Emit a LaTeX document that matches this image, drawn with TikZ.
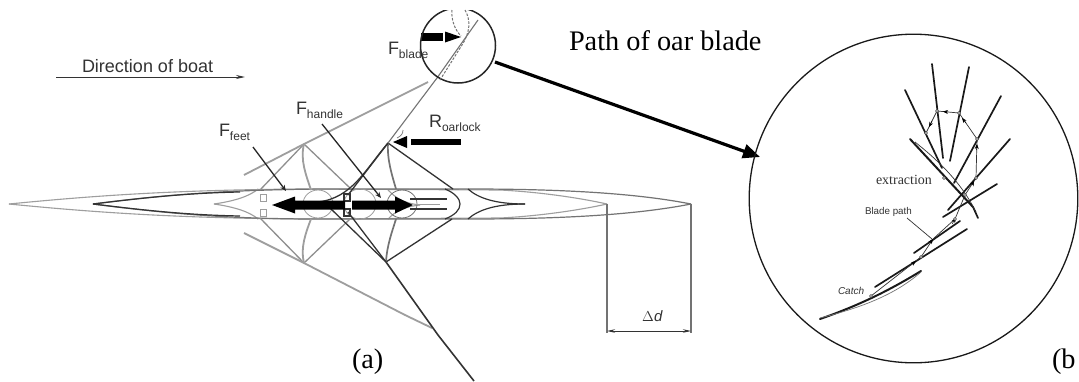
\documentclass[tikz,border=0pt]{standalone}
\usepackage{fontspec}
\setmainfont{Liberation Serif}
\setsansfont{Liberation Sans}
\usetikzlibrary{arrows.meta}
\definecolor{lg}{gray}{0.62}
\definecolor{mg}{gray}{0.45}
\definecolor{dg}{gray}{0.2}
\newcommand{\forcelab}[2]{\fontsize{18}{18}\selectfont #1\raisebox{-4pt}{\fontsize{12}{12}\selectfont #2}}
\tikzset{
  x=1pt,y=-1pt,
  txt/.style={anchor=base west,inner sep=0pt,outer sep=0pt},
  sanslab/.style={txt,font=\sffamily,text=dg},
  bigtxt/.style={txt,font=\fontsize{28.3}{28}\selectfont,text=black},
  lightline/.style={draw=lg,line width=1.1pt},
  darkline/.style={draw=dg,line width=1.2pt},
  riglight/.style={draw=mg!80,line width=1.3pt},
  rigdark/.style={draw=dg,line width=1.3pt},
  leader/.style={draw=black!85,line width=1.3pt,-{Stealth[length=6pt,width=5pt]}},
  blk/.style={fill=black,draw=none},
  oarline/.style={draw=black!90,line width=1.7pt,line cap=round},
  pathline/.style={draw=dg,line width=0.7pt},
  pm/.style={circle,draw=dg,fill=white,line width=0.4pt,inner sep=0pt,minimum size=3pt},
}
\begin{document}
\begin{tikzpicture}
\clip (0,0) rectangle (1079,381);
\fill[white] (0,0) rectangle (1079,381);

% hulls: rear (light) position
\draw[lightline] (9,204) .. controls (100,195) and (180,190) .. (300,189) -- (500,190) .. controls (540,192) and (580,198) .. (607,204);
\draw[lightline] (9,204) .. controls (100,213) and (180,218) .. (300,219) -- (500,218) .. controls (540,216) and (580,210) .. (607,204);
\draw[lightline] (214,204) .. controls (235,201) and (250,196) .. (258,189);
\draw[lightline] (214,204) .. controls (235,207) and (250,212) .. (258,219);
\draw[lightline] (388,190) .. controls (395,197) and (402,203) .. (420,205);
\draw[lightline] (388,219) .. controls (395,212) and (402,207) .. (420,205);
% hulls: front (dark) position
\draw[darkline,draw=mg] (93,204) .. controls (170,194) and (230,190) .. (320,189) -- (470,189) .. controls (570,189) and (640,194) .. (691,204);
\draw[darkline,draw=mg] (93,204) .. controls (170,214) and (230,219) .. (320,219) -- (470,219) .. controls (570,219) and (640,214) .. (691,204);
\draw[darkline] (93,204) .. controls (150,197) and (190,193) .. (240,192);
\draw[darkline] (93,204) .. controls (150,211) and (190,215) .. (240,216);
\draw[darkline] (525,204) .. controls (495,204) and (478,198) .. (468,189);
\draw[darkline] (525,204) .. controls (495,204) and (478,210) .. (468,219);
\draw[darkline] (445,189) .. controls (455,193) and (460,199) .. (460,204) .. controls (460,210) and (455,215) .. (445,219);

% seats, feet
\draw[lg,line width=0.8pt] (318,204) ellipse (15 and 14);
\draw[lg,line width=0.8pt] (360,204) ellipse (16 and 15);
\draw[mg,line width=0.8pt] (402,204) ellipse (15 and 14);
\draw[lg,line width=0.8pt] (260,194) rectangle (266,201);
\draw[lg,line width=0.8pt] (260,209) rectangle (266,216);
\draw[darkline] (344,194) rectangle (350,201);
\draw[darkline] (344,209) rectangle (350,216);
\draw[darkline] (410,199) -- (447,199);
\draw[darkline] (410,209) -- (447,209);
\draw[lightline] (415,204.5) -- (440,204.5);

% rear riggers and oars
\coordinate (rt) at (304,144);
\coordinate (rb) at (304,263);
\draw[riglight] (rt) -- (260,190);
\draw[riglight] (rt) -- (350,188);
\draw[lightline,line width=1.8pt] (rt) .. controls (300,160) and (306,175) .. (311,190);
\draw[riglight] (rb) -- (260,218);
\draw[riglight] (rb) -- (350,219);
\draw[lightline,line width=1.8pt] (rb) .. controls (300,248) and (306,232) .. (311,219);
\draw[lightline,line width=1.8pt] (244,175) -- (rt) -- (428,82);
\draw[lightline,line width=1.8pt] (244,233) -- (rb) -- (405,315) -- (432,328);

% front riggers and oars
\coordinate (ft) at (388,143);
\coordinate (fb) at (386,262);
\draw[rigdark] (ft) -- (453,189);
\draw[mg,line width=1.7pt] (ft) .. controls (387,160) and (392,175) .. (396,189);
\draw[rigdark] (fb) -- (452,219);
\draw[mg,line width=1.7pt] (fb) .. controls (387,245) and (392,232) .. (396,219);
\draw[rigdark] (ft) -- (348,195);
\draw[rigdark] (ft) .. controls (365,170) and (352,198) .. (318,202);
\draw[rigdark] (fb) -- (348,212);
\draw[rigdark] (fb) -- (330,208);
\draw[rigdark,line width=1.6pt] (fb) -- (438,335) -- (474,381);
\draw[mg,line width=1.1pt] (ft) -- (437,78) -- (478,20);

% force arrows
\path[blk] (272,205) -- (295,196.5) -- (295,200.5) -- (345,200.5) -- (345,209.5) -- (295,209.5) -- (295,213.5) -- cycle;
\path[blk] (413,205) -- (395,196.5) -- (395,200.5) -- (352,200.5) -- (352,209.5) -- (395,209.5) -- (395,213.5) -- cycle;
\path[blk] (393,142) -- (407,136) -- (407,148) -- cycle;
\path[blk] (411,138.5) rectangle (461,144.5);
\path[blk] (421,33) rectangle (443,41);
\path[blk] (461,37) -- (445,31.5) -- (445,42.5) -- cycle;

% small circle
\begin{scope}
\clip (410,10) rectangle (510,95);
\draw[black!85,line width=1.5pt] (458,45.5) circle (37.5);
\end{scope}
\draw[mg,line width=1pt,dash pattern=on 2.5pt off 1.5pt] (452,10) .. controls (451,20) and (455,30) .. (461,36);
\draw[mg,line width=1pt,dash pattern=on 2.5pt off 1.5pt] (465,10) .. controls (471,20) and (470,33) .. (462,45) -- (440,80);

% connector to enlargement
\coordinate (cs) at (495,62);
\coordinate (cb) at (760,157);
\draw[black,line width=3.2pt,-{Stealth[length=17pt,width=14pt,inset=0pt]}] (cs) -- (cb);

% dimension
\draw[mg,line width=1.1pt] (607,204) -- (607,333);
\draw[mg,line width=1.1pt] (691,204) -- (691,333);
\draw[dg,line width=0.9pt,{Stealth[length=8pt,width=3.5pt]}-{Stealth[length=8pt,width=3.5pt]}] (607,331) -- (691,331);

% direction arrow
\draw[dg,line width=0.9pt,-{Stealth[length=9pt,width=4pt]}] (56,77) -- (245,77);

% leaders
\draw[leader] (253,147) -- (286,191);
\draw[leader] (322,124) -- (381,198);
\draw[mg,line width=0.7pt] (397,138) .. controls (401,136) and (403,134) .. (403,130);

% enlargement
\draw[black!90,line width=1.3pt] (913.5,198.5) circle (164.3);
\draw[oarline] (905,90) -- (942,168);
\draw[oarline] (932,64) -- (943,158);
\draw[oarline] (969,67) -- (950,161);
\draw[oarline] (1001,96) -- (954,183);
\draw[oarline] (1010,139) -- (948,210);
\draw[oarline] (997,184) -- (943,217);
\draw[oarline] (960,221) -- (914,253);
\draw[oarline] (967,229) -- (875,287);
\draw[oarline,line width=2pt] (910,139) -- (973,207);
\draw[oarline] (973,207) -- (978,218);
\draw[oarline,line width=2pt] (921,271) .. controls (890,290) and (860,305) .. (820,319);
\draw[pathline] (915,142) .. controls (935,158) and (960,180) .. (976,212);
\draw[pathline,draw=mg] (820,318) .. controls (860,308) and (895,295) .. (921,272);
\draw[pathline] (926,133) -- (937,111) -- (959,113) -- (977,139) -- (976,178) -- (965,195) -- (955,219) -- (933,239) -- (921,257) -- (871,296);
\draw[pathline] (907,218) -- (932,239);
\foreach \xa/\ya/\xb/\yb in {932/121/929/127,948/112/943/111.5,966/123/962/118,976.7/150/977/144,972/185/974/181,952/224/956/218,930/243/933/239,912/264/916/261}{
  \draw[black,line width=0.5pt,-{Stealth[length=5pt,width=4pt]}] (\xa,\ya) -- (\xb,\yb);
}
\foreach \xa/\ya in {926/133,937/111,959/113,977/139,976/178,944/178,965/195,955/219,921/257,871/296}{
  \node[pm] at (\xa,\ya) {};
}

% labels
\node[sanslab,font=\sffamily\fontsize{18}{18}\selectfont] (dirlab) at (82,72) {Direction of boat};
\node[sanslab] (ffeet) at (219,136) {\forcelab{F}{feet}};
\node[sanslab] (fhandle) at (296,114) {\forcelab{F}{handle}};
\node[sanslab] (fblade) at (388,54) {\forcelab{F}{blade}};
\node[sanslab] (roar) at (429,127) {\forcelab{R}{oarlock}};
\node[sanslab,font=\sffamily\itshape\fontsize{15}{15}\selectfont] (dd) at (642,321) {$\Delta$\kern0.3pt d};
\node[bigtxt] (title) at (569,50) {Path of oar blade};
\node[bigtxt] (la) at (352,368) {(a)};
\node[bigtxt] (lb) at (1052,368) {(b};
\node[txt,font=\fontsize{14}{14}\selectfont,text=dg] (ext) at (876,184) {extraction};
\node[sanslab,font=\sffamily\fontsize{9.8}{9.8}\selectfont] (bp) at (865,214) {Blade path};
\node[sanslab,font=\sffamily\itshape\fontsize{10}{10}\selectfont] (ca) at (838,294) {Catch};
\end{tikzpicture}
\end{document}
